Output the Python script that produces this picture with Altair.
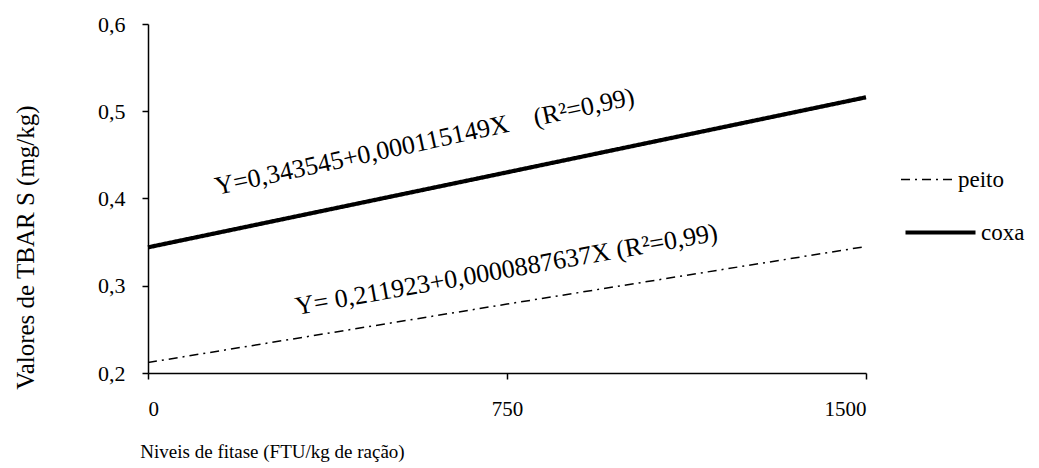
import altair as alt
import pandas as pd

# ---- data ----
niveis = [0, 750, 1500]
coxa = [0.344, 0.430, 0.516]
peito = [0.212, 0.279, 0.345]
series_order = ["peito", "coxa"]

ann_text = ["Y=0,343545+0,000115149X\u00a0\u00a0\u00a0\u00a0(R²=0,99)",
            "Y=\u00a00,211923+0,0000887637X\u00a0(R²=0,99)"]
ann_x = [144, 311]
ann_y = [0.404, 0.2665]
ann_angle = [347.8, 350]

FONT = "Times New Roman, Liberation Serif, DejaVu Serif, serif"

rows = []
for i, n in enumerate(niveis):
    rows.append({"nivel": n, "valor": peito[i], "serie": "peito"})
    rows.append({"nivel": n, "valor": coxa[i], "serie": "coxa"})
df = pd.DataFrame(rows)

leg_peito = alt.Legend(title=None, orient="none", legendX=752, legendY=128, values=["peito"],
                       symbolType="stroke", symbolSize=2809, symbolStrokeColor="black",
                       symbolStrokeWidth=1.5,
                       labelFont=FONT, labelFontSize=23, labelColor="black",
                       padding=0, labelOffset=3)
leg_coxa = alt.Legend(title=None, orient="none", legendX=755, legendY=171, values=["coxa"],
                      symbolType="stroke", symbolSize=4900, symbolStrokeColor="black",
                      labelFont=FONT, labelFontSize=23, labelColor="black",
                      padding=0, labelOffset=3)

lines = alt.Chart(df).mark_line(color="black").encode(
    x=alt.X("nivel:Q", scale=alt.Scale(domain=[0, 1500], nice=False, zero=False),
            axis=alt.Axis(values=niveis, format="d", title="Niveis de fitase (FTU/kg de ração)",
                          labelPadding=19, titleX=124, titleY=84,
                          titleBaseline="alphabetic", titleAlign="center",
                          titleFontSize=19, labelFontSize=21)),
    y=alt.Y("valor:Q", scale=alt.Scale(domain=[0.2, 0.6], nice=False, zero=False),
            axis=alt.Axis(values=[0.2, 0.3, 0.4, 0.5, 0.6],
                          labelExpr="replace(format(datum.value, '.1f'), '.', ',')",
                          title="Valores de TBAR S (mg/kg)", labelPadding=17,
                          titleX=-115, titleY=223, titleAngle=270,
                          titleBaseline="alphabetic", titleAlign="center",
                          titleFontSize=25, labelFontSize=22)),
    strokeDash=alt.StrokeDash("serie:N",
                              scale=alt.Scale(domain=series_order, range=[[9, 5, 2, 5], [1, 0]]),
                              legend=leg_peito),
    strokeWidth=alt.StrokeWidth("serie:N",
                                scale=alt.Scale(domain=series_order[::-1], range=[4.2, 1.5]),
                                legend=leg_coxa),
)

layers = [lines]
for i in range(len(ann_text)):
    d = pd.DataFrame({"x": [ann_x[i]], "y": [ann_y[i]], "t": [ann_text[i]]})
    layers.append(
        alt.Chart(d).mark_text(align="left", baseline="alphabetic", angle=ann_angle[i],
                               font=FONT, fontSize=26, color="black").encode(
            x="x:Q", y="y:Q", text="t:N")
    )

chart = alt.layer(*layers).properties(
    width=718, height=349,
    autosize=alt.AutoSizeParams(type="none"),
    padding={"left": 140, "top": 16, "right": 165, "bottom": 92},
    background="white",
).configure_view(stroke=None).configure_axis(
    grid=False, domainColor="black", domainWidth=1.5, tickColor="black",
    tickWidth=1.5, tickSize=6, labelFont=FONT, titleFont=FONT,
    labelColor="black", titleColor="black", titleFontWeight="normal",
)

chart.save("out.html", embed_options={"renderer": "svg", "actions": False})
